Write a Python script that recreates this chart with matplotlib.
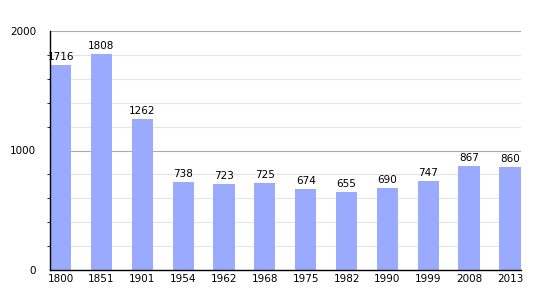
import matplotlib.pyplot as plt
from matplotlib.ticker import MultipleLocator

years = ["1800", "1851", "1901", "1954", "1962", "1968", "1975", "1982", "1990", "1999", "2008", "2013"]
population = [1716, 1808, 1262, 738, 723, 725, 674, 655, 690, 747, 867, 860]

fig = plt.figure(figsize=(5.5, 3), dpi=100)
ax = fig.add_axes([50/550, 30/300, 471/550, 239/300])

x = range(len(years))
bars = ax.bar(x, population, width=0.52, color="#99aaff", zorder=2)

for i, v in enumerate(population):
    ax.text(i, v + 25, str(v), ha="center", va="bottom", fontsize=7.5)

ax.set_xlim(-0.26, 11.27)
ax.set_ylim(0, 2000)
ax.set_xticks(list(x))
ax.set_xticklabels(years, fontsize=7.5)
ax.yaxis.set_major_locator(MultipleLocator(1000))
ax.yaxis.set_minor_locator(MultipleLocator(200))
ax.tick_params(axis="y", which="major", labelsize=7.5, length=0, pad=10)
ax.tick_params(axis="y", which="minor", length=2.5, width=0.8, direction="out", color="#333333")
ax.tick_params(axis="x", length=0, pad=3)

ax.grid(axis="y", which="major", color="#aaaaaa", linewidth=0.8, zorder=0)
ax.grid(axis="y", which="minor", color="#e4e4e4", linewidth=0.8, zorder=0)

for s in ["top", "right"]:
    ax.spines[s].set_visible(False)
ax.spines["left"].set_linewidth(1)
ax.spines["bottom"].set_linewidth(1)

fig.savefig("out.png", dpi=100)
